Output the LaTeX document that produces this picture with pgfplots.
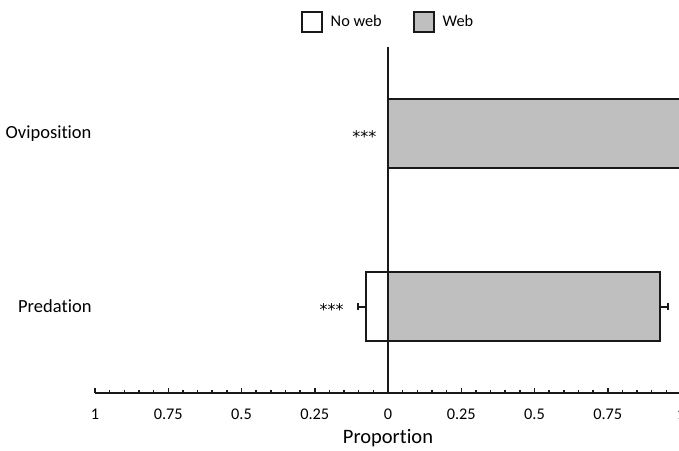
\documentclass[border=0pt]{standalone}
\usepackage{fontspec}
\setmainfont{Carlito}[Ligatures=NoCommon]
\newfontfamily\starfont{DejaVu Sans}
\usepackage{pgfplots}
\pgfplotsset{compat=1.18}
\usetikzlibrary{calc}
\definecolor{webgray}{RGB}{191,191,191}
\definecolor{edge}{RGB}{25,25,25}
\begin{document}
\begin{tikzpicture}
\begin{axis}[
  scale only axis,
  width=586pt, height=346pt,
  xmin=-1, xmax=1, ymin=-0.5, ymax=1.5,
  axis x line*=bottom,
  axis y line*=left,
  y axis line style={draw=none},
  x axis line style={line width=2pt, color=edge},
  xtick={-1,-0.75,-0.5,-0.25,0,0.25,0.5,0.75,1},
  xticklabels={1,0.75,0.5,0.25,0,0.25,0.5,0.75,1},
  minor x tick num=4,
  tick align=inside,
  major tick length=5pt, minor tick length=3.5pt,
  major x tick style={line width=1.5pt, color=edge},
  minor x tick style={line width=1.5pt, color=edge},
  ytick={0,1}, yticklabels={Predation,Oviposition},
  major y tick style={draw=none},
  /pgf/number format/assume math mode=true,
  xticklabel style={font=\fontsize{16.3}{18}\selectfont, yshift=-12pt},
  yticklabel style={font=\fontsize{18.5}{22}\selectfont},
  xlabel={Proportion},
  xlabel style={font=\fontsize{20.5}{24}\selectfont, yshift=-3pt},
  legend style={at={(axis cs:0,1.5)}, anchor=south, yshift=12pt, draw=none,
    legend columns=2, font=\fontsize{16.3}{18}\selectfont,
    /tikz/every odd column/.append style={column sep=6pt},
    /tikz/every even column/.append style={column sep=29pt}},
  legend image code/.code={\draw[#1, line width=2pt] (0pt,-10pt) rectangle (20pt,10pt);},
]
\addplot[xbar, bar shift=0pt, bar width=0.4, fill=white, draw=edge, line width=2.5pt,
  error bars/.cd, x dir=minus, x explicit, error mark=|,
  error bar style={line width=2pt, color=edge},
  error mark options={mark size=3.5pt, line width=2pt, color=edge}]
  coordinates {(-0.075,0) +- (0.027,0)};
\addlegendentry{No web}
\addplot[xbar, bar shift=0pt, bar width=0.4, fill=webgray, draw=edge, line width=2.5pt,
  error bars/.cd, x dir=plus, x explicit, error mark=|,
  error bar style={line width=2pt, color=edge},
  error mark options={mark size=3.5pt, line width=2pt, color=edge}]
  coordinates {(0.928,0) +- (0.028,0)};
\addlegendentry{Web}
\addplot[xbar, bar shift=0pt, bar width=0.4, fill=white, draw=edge, line width=2.5pt, forget plot]
  coordinates {(0,1)};
\addplot[xbar, bar shift=0pt, bar width=0.4, fill=webgray, draw=edge, line width=2.5pt, forget plot]
  coordinates {(1,1)};
\draw[line width=1.5pt, color=edge] (axis cs:0,-0.5) -- (axis cs:0,1.5);
\node[anchor=east, font=\starfont\fontsize{16}{19}\selectfont, xshift=-8pt, yshift=-3pt] at (axis cs:0,1) {***};
\node[anchor=east, font=\starfont\fontsize{16}{19}\selectfont, xshift=-11pt, yshift=-3pt] at (axis cs:-0.102,0) {***};
\coordinate (LL) at (rel axis cs:0,0);
\end{axis}
\pgfresetboundingbox
\path[use as bounding box] ($(LL)+(-95pt,-57pt)$) rectangle ++(679pt,450pt);
\end{tikzpicture}
\end{document}
